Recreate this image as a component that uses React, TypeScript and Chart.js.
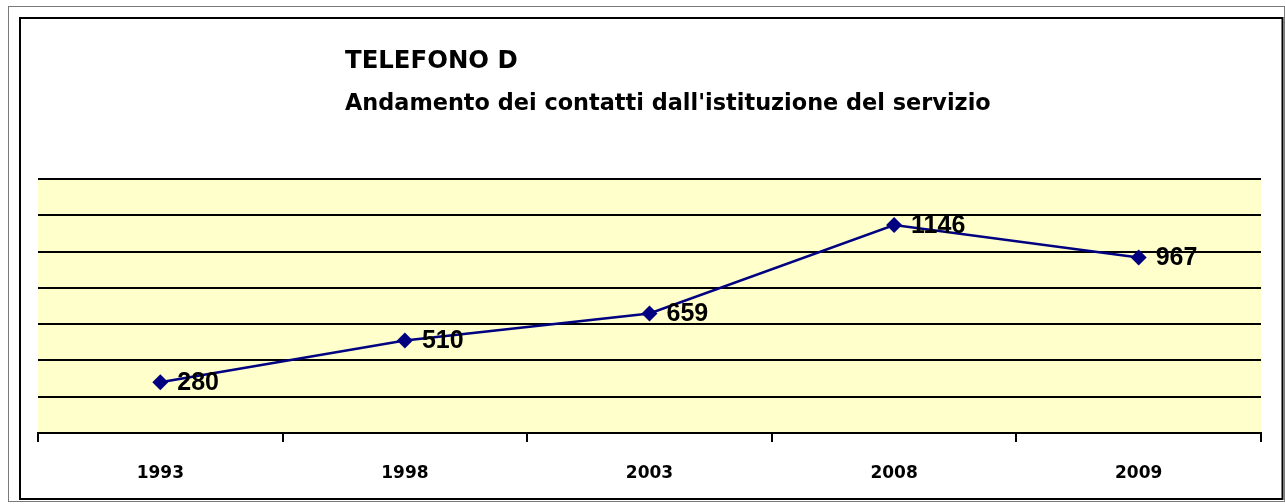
import React, { useEffect, useRef } from "react";
import { Chart, registerables } from "chart.js";

Chart.register(...registerables);

const categories = ["1993", "1998", "2003", "2008", "2009"];
const contatti = [280, 510, 659, 1146, 967];
const titleLine1 = "TELEFONO D";
const titleLine2 = "Andamento dei contatti dall'istituzione del servizio";
const yMin = 0;
const yMax = 1400;
const yStep = 200;

const framePlugin = {
  id: "frame",
  beforeDraw(chart: any) {
    const { ctx, chartArea } = chart;
    ctx.save();
    ctx.fillStyle = "#ffffff";
    ctx.fillRect(0, 0, chart.width, chart.height);
    ctx.strokeStyle = "#7a7a7a";
    ctx.lineWidth = 1;
    ctx.strokeRect(8.5, 6.5, 1276, 495);
    ctx.strokeStyle = "#000000";
    ctx.lineWidth = 2;
    ctx.strokeRect(20, 18, 1262.5, 481);
    ctx.fillStyle = "#FFFFCC";
    ctx.fillRect(chartArea.left, chartArea.top, chartArea.right - chartArea.left, chartArea.bottom - chartArea.top);
    ctx.restore();
  },
};

const titlePlugin = {
  id: "titles",
  afterDraw(chart: any) {
    const { ctx } = chart;
    ctx.save();
    ctx.fillStyle = "#000";
    ctx.textBaseline = "alphabetic";
    ctx.textAlign = "left";
    ctx.font = "bold 24.4px 'DejaVu Sans'";
    ctx.fillText(titleLine1, 345, 68);
    ctx.font = "bold 22.4px 'DejaVu Sans'";
    ctx.fillText(titleLine2, 345, 110);
    ctx.restore();
  },
};

const valueLabelPlugin = {
  id: "valueLabels",
  afterDatasetsDraw(chart: any) {
    const { ctx } = chart;
    const meta = chart.getDatasetMeta(0);
    const data = chart.data.datasets[0].data;
    ctx.save();
    ctx.fillStyle = "#000";
    ctx.font = "bold 25px 'Liberation Sans'";
    ctx.textBaseline = "middle";
    ctx.textAlign = "left";
    meta.data.forEach((pt: any, i: number) => {
      ctx.fillText(String(data[i]), pt.x + 17, pt.y + 1);
    });
    ctx.restore();
  },
};

export default function App() {
  const ref = useRef<HTMLCanvasElement | null>(null);
  useEffect(() => {
    if (!ref.current) return;
    const chart = new Chart(ref.current, {
      type: "line",
      data: {
        labels: categories,
        datasets: [
          {
            data: contatti,
            borderColor: "#000080",
            borderWidth: 2.5,
            pointStyle: "rectRot",
            pointRadius: 8,
            pointBackgroundColor: "#000080",
            pointBorderColor: "#000080",
            pointBorderWidth: 0,
            tension: 0,
          },
        ],
      },
      options: {
        animation: false,
        responsive: false,
        devicePixelRatio: 1,
        layout: { padding: { left: 38, right: 24, top: 179, bottom: 0 } },
        plugins: { legend: { display: false }, tooltip: { enabled: false }, title: { display: false } },
        scales: {
          x: {
            offset: true,
            grid: { offset: true, drawOnChartArea: false, drawTicks: true, tickLength: 9, color: "#000", lineWidth: 2 },
            border: { display: true, color: "#000", width: 2 },
            ticks: { color: "#000", font: { family: "'DejaVu Sans'", weight: "bold", size: 17 }, padding: 21 },
            afterFit: (s: any) => {
              s.height = 71;
            },
          },
          y: {
            min: yMin,
            max: yMax,
            ticks: { display: false, stepSize: yStep },
            grid: { color: "#000", lineWidth: 2, drawTicks: false },
            border: { display: false },
            afterFit: (s: any) => {
              s.width = 0;
            },
          },
        },
      },
      plugins: [framePlugin, titlePlugin, valueLabelPlugin],
    });
    return () => chart.destroy();
  }, []);
  return (
    <div style={{ position: "absolute", left: 0, top: 0, width: 1285, height: 504 }}>
      <canvas ref={ref} width={1285} height={504} style={{ display: "block" }} />
    </div>
  );
}
